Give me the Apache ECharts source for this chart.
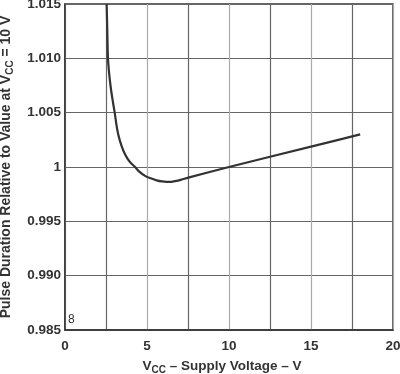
<!DOCTYPE html>
<html>
<head>
<meta charset="utf-8">
<script src="https://cdn.jsdelivr.net/npm/echarts@6/dist/echarts.min.js"></script>
<style>html,body{margin:0;padding:0;background:#fff}#c{width:400px;height:374px}</style>
</head>
<body>
<div id="c"></div>
<script>
var vcc = [2.54, 2.58, 2.62, 2.7, 2.8, 2.92, 3.03, 3.19, 3.35, 3.56, 3.8, 4.0, 4.27, 4.55, 4.88, 5.18, 5.59, 5.9, 6.2, 6.5, 6.8, 7.1, 7.52, 10, 15, 18];
var ratio = [1.015, 1.0125, 1.010, 1.0085, 1.0072, 1.006, 1.005, 1.0034, 1.0024, 1.0015, 1.0008, 1.0004, 1.0, 0.99955, 0.99918, 0.99898, 0.99877, 0.99867, 0.99863, 0.99864, 0.99872, 0.99884, 0.99902, 1.0, 1.001875, 1.003];
var xTicks = [0, 5, 10, 15, 20];
var yTicks = [0.985, 0.990, 0.995, 1, 1.005, 1.010, 1.015];

var chart = echarts.init(document.getElementById('c'), null, {renderer: 'canvas'});
var font = '"Liberation Sans", Arial, sans-serif';
chart.setOption({
  animation: false,
  grid: {left: 65, right: 7, top: 4, bottom: 44, show: true, borderColor: '#333', borderWidth: 1.5, containLabel: false, outerBoundsMode: 'none'},
  xAxis: {
    type: 'value', min: 0, max: 20, interval: 2.5,
    axisLine: {show: true, lineStyle: {color: '#333', width: 1.5}},
    axisTick: {show: false},
    axisLabel: {
      color: '#333', fontFamily: font, fontWeight: 'bold', fontSize: 13.5, margin: 9,
      formatter: function (v) { return xTicks.indexOf(v) >= 0 ? String(v) : ''; }
    },
    splitLine: {show: true, lineStyle: {color: ['#aaa', '#666'], width: 1.2}},
    name: '{b|V}{s|CC}{b| – Supply Voltage – V}',
    nameLocation: 'middle', nameGap: 28,
    nameTextStyle: {
      padding: [0, 14, 0, 0],
      rich: {
        b: {fontFamily: font, fontWeight: 'bold', fontSize: 13.5, color: '#333'},
        s: {fontFamily: font, fontWeight: 'bold', fontSize: 10, color: '#333', verticalAlign: 'bottom', padding: [7, 0, 0, 0]}
      }
    }
  },
  yAxis: {
    type: 'value', min: 0.985, max: 1.015, interval: 0.005,
    axisLine: {show: true, lineStyle: {color: '#333', width: 1.5}},
    axisTick: {show: false},
    axisLabel: {
      color: '#333', fontFamily: font, fontWeight: 'bold', fontSize: 13.5, margin: 4,
      formatter: function (v) {
        var t = yTicks.filter(function (y) { return Math.abs(y - v) < 1e-9; });
        if (!t.length) return '';
        return Math.abs(v - 1) < 1e-9 ? '1' : v.toFixed(3);
      }
    },
    splitLine: {show: true, lineStyle: {color: '#666', width: 1.2}},
    name: '{b|Pulse Duration Relative to Value at V}{s|CC}{b| = 10 V}',
    nameLocation: 'middle', nameGap: 50,
    nameTextStyle: {
      rich: {
        b: {fontFamily: font, fontWeight: 'bold', fontSize: 14, color: '#333'},
        s: {fontFamily: font, fontWeight: 'bold', fontSize: 10, color: '#333', verticalAlign: 'bottom', padding: [7, 0, 0, 0]}
      }
    }
  },
  graphic: [{
    type: 'text', left: 68, top: 314,
    style: {text: '8', fontFamily: font, fontSize: 12, fill: '#333'}
  }],
  series: [{
    type: 'line',
    data: vcc.map(function (x, i) { return [x, ratio[i]]; }),
    smooth: 0.3,
    showSymbol: false,
    clip: true,
    lineStyle: {color: '#333', width: 2.2}
  }]
});
</script>
</body>
</html>
